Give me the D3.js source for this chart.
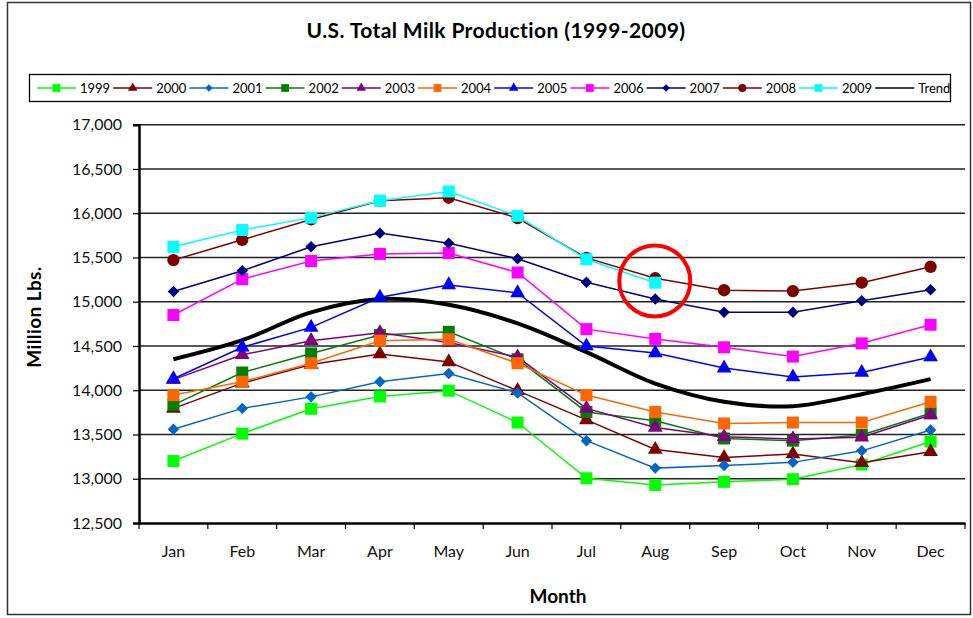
<!DOCTYPE html>
<html>
<head>
<meta charset="utf-8">
<script src="https://cdn.jsdelivr.net/npm/d3@7"></script>
<style>
  body { margin: 0; background: #fff; }
  svg { display: block; font-family: Lato, "Open Sans", sans-serif; }
</style>
</head>
<body>
<div id="chart"></div>
<script>
// month labels and series (million lbs)
var months = ['Jan', 'Feb', 'Mar', 'Apr', 'May', 'Jun', 'Jul', 'Aug', 'Sep', 'Oct', 'Nov', 'Dec'];
var yTicks = [12500, 13000, 13500, 14000, 14500, 15000, 15500, 16000, 16500, 17000];

var v1999 = [13200, 13510, 13790, 13930, 13995, 13635, 13005, 12930, 12965, 12995, 13160, 13420];
var v2000 = [13795, 14080, 14290, 14410, 14320, 13995, 13665, 13330, 13240, 13280, 13180, 13305];
var v2001 = [13560, 13795, 13925, 14095, 14190, 13970, 13430, 13120, 13150, 13185, 13315, 13550];
var v2002 = [13835, 14200, 14415, 14625, 14660, 14350, 13755, 13655, 13455, 13430, 13495, 13740];
var v2003 = [14120, 14400, 14560, 14650, 14540, 14375, 13795, 13580, 13475, 13450, 13470, 13720];
var v2004 = [13945, 14095, 14305, 14560, 14575, 14305, 13945, 13755, 13625, 13635, 13635, 13870];
var v2005 = [14130, 14485, 14710, 15050, 15190, 15100, 14500, 14420, 14250, 14150, 14200, 14375];
var v2006 = [14850, 15255, 15460, 15540, 15550, 15330, 14690, 14580, 14485, 14380, 14530, 14740];
var v2007 = [15115, 15350, 15620, 15775, 15660, 15485, 15220, 15030, 14880, 14880, 15010, 15135];
var v2008 = [15470, 15700, 15930, 16140, 16175, 15945, 15495, 15265, 15130, 15120, 15215, 15395];
var v2009 = [15620, 15810, 15950, 16140, 16245, 15970, 15480, 15215];
var trend = [14350, 14565, 14880, 15030, 14965, 14755, 14430, 14075, 13870, 13820, 13955, 14125];

var seriesNames = ['1999', '2000', '2001', '2002', '2003', '2004', '2005', '2006', '2007', '2008', '2009'];
var seriesValues = [v1999, v2000, v2001, v2002, v2003, v2004, v2005, v2006, v2007, v2008, v2009];
var seriesColors = ['#00ff00', '#800000', '#0066cc', '#008000', '#800080', '#ff6600', '#0000ff', '#ff00ff', '#000080', '#800000', '#00ffff'];
var seriesShapes = ['square', 'triangle', 'diamond', 'square', 'triangle', 'square', 'triangle', 'square', 'diamond', 'circle', 'square'];

var W = 973, H = 618;
var margin = { top: 124.7, right: 8, bottom: 95, left: 139 };
var width = W - margin.left - margin.right;
var height = H - margin.top - margin.bottom;

var svg = d3.select('#chart').append('svg')
  .attr('width', W)
  .attr('height', H);

// outer chart border
svg.append('rect')
  .attr('x', 7.5).attr('y', 2.5)
  .attr('width', 963).attr('height', 612)
  .attr('fill', 'none')
  .attr('stroke', '#333')
  .attr('stroke-width', 1.5);

svg.append('text')
  .attr('x', 496).attr('y', 38)
  .attr('text-anchor', 'middle')
  .attr('font-size', 21)
  .attr('letter-spacing', 0.4)
  .attr('font-weight', 'bold')
  .text('U.S. Total Milk Production (1999-2009)');

var g = svg.append('g')
  .attr('transform', 'translate(' + margin.left + ',' + margin.top + ')');

var x = d3.scaleBand().domain(months).range([0, width]);
var y = d3.scaleLinear().domain([12500, 17000]).range([height, 0]);

function cx(i) { return x(months[i]) + x.bandwidth() / 2; }

// gridlines
g.append('g')
  .selectAll('line')
  .data(yTicks.slice(1))
  .enter().append('line')
  .attr('x1', 0).attr('x2', width)
  .attr('y1', function(d) { return y(d); })
  .attr('y2', function(d) { return y(d); })
  .attr('stroke', '#222')
  .attr('stroke-width', 1.6);

// y axis
var yAxis = g.append('g')
  .call(d3.axisLeft(y).tickValues(yTicks).tickSize(6).tickPadding(11).tickFormat(d3.format(',')));
yAxis.select('.domain').attr('stroke-width', 2.5);
yAxis.selectAll('.tick line').attr('stroke-width', 1.2);
yAxis.selectAll('text').attr('font-size', 16).attr('font-family', 'Lato, sans-serif').attr('fill', '#111');

// x axis with ticks on band edges
var xAxis = g.append('g')
  .attr('transform', 'translate(0,' + height + ')')
  .call(d3.axisBottom(x).tickSize(0).tickPadding(23));
xAxis.select('.domain').attr('stroke-width', 2.5);
xAxis.selectAll('text').attr('font-size', 16).attr('font-family', 'Lato, sans-serif').attr('fill', '#111');
g.append('g')
  .selectAll('line')
  .data(d3.range(months.length + 1))
  .enter().append('line')
  .attr('x1', function(i) { return i * x.step(); })
  .attr('x2', function(i) { return i * x.step(); })
  .attr('y1', height).attr('y2', height + 6)
  .attr('stroke', '#000')
  .attr('stroke-width', 1.2);

svg.append('text')
  .attr('x', 558).attr('y', 603)
  .attr('text-anchor', 'middle')
  .attr('font-size', 19)
  .attr('font-weight', 'bold')
  .text('Month');

svg.append('text')
  .attr('transform', 'translate(41,317) rotate(-90)')
  .attr('text-anchor', 'middle')
  .attr('font-size', 19)
  .attr('letter-spacing', 0.4)
  .attr('font-weight', 'bold')
  .text('Million Lbs.');

function symbolPath(shape, big) {
  var k = big ? 1 : 0.42;
  if (shape === 'square') return d3.symbol(d3.symbolSquare, 144 * k)();
  if (shape === 'triangle') return d3.symbol(d3.symbolTriangle, 95 * k)();
  if (shape === 'circle') return d3.symbol(d3.symbolCircle, 120 * k)();
  return d3.symbol(d3.symbolSquare, 66 * k)();
}
function symbolRotate(shape) { return shape === 'diamond' ? ' rotate(45)' : ''; }

var line = d3.line()
  .x(function(d, i) { return cx(i); })
  .y(function(d) { return y(d); });

// trend line
g.append('path')
  .datum(trend)
  .attr('fill', 'none')
  .attr('stroke', '#000')
  .attr('stroke-width', 4)
  .attr('d', line.curve(d3.curveCatmullRom));

line.curve(d3.curveLinear);

seriesValues.forEach(function(vals, s) {
  var sg = g.append('g');
  sg.append('path')
    .datum(vals)
    .attr('fill', 'none')
    .attr('stroke', seriesColors[s])
    .attr('stroke-width', 1.5)
    .attr('d', line);
  sg.selectAll('path.mark')
    .data(vals)
    .enter().append('path')
    .attr('class', 'mark')
    .attr('d', symbolPath(seriesShapes[s], true))
    .attr('transform', function(d, i) {
      return 'translate(' + cx(i) + ',' + y(d) + ')' + symbolRotate(seriesShapes[s]);
    })
    .attr('fill', seriesColors[s]);
});

// red circle annotation round Aug 2008/2009
g.append('circle')
  .attr('cx', cx(7) - 0.5)
  .attr('cy', y(15235))
  .attr('r', 35.5)
  .attr('fill', 'none')
  .attr('stroke', '#ff0000')
  .attr('stroke-width', 4);

// legend
var legend = svg.append('g');
legend.append('rect')
  .attr('x', 29.5).attr('y', 74.5)
  .attr('width', 921).attr('height', 27)
  .attr('fill', '#fff')
  .attr('stroke', '#000')
  .attr('stroke-width', 1.3);

var legendItems = seriesNames.concat(['Trend']);
var item = legend.selectAll('g.item')
  .data(legendItems)
  .enter().append('g')
  .attr('class', 'item')
  .attr('transform', function(d, i) { return 'translate(' + (37 + i * 76.2) + ',88)'; });

item.append('line')
  .attr('x1', 0).attr('x2', 39)
  .attr('stroke', function(d, i) { return i < seriesColors.length ? seriesColors[i] : '#000'; })
  .attr('stroke-width', 1.5);

item.filter(function(d, i) { return i < seriesShapes.length; })
  .append('path')
  .attr('d', function(d, i) { return symbolPath(seriesShapes[i], false); })
  .attr('transform', function(d, i) { return 'translate(19.5,0)' + symbolRotate(seriesShapes[i]); })
  .attr('fill', function(d, i) { return seriesColors[i]; });

item.append('text')
  .attr('x', 43)
  .attr('dy', '0.35em')
  .attr('font-size', 13)
  .text(function(d) { return d; });
</script>
</body>
</html>
